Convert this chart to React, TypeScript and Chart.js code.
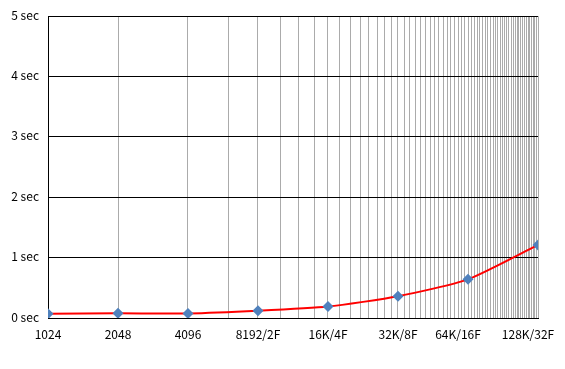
import React, { useEffect, useRef } from "react";
import { Chart, registerables } from "chart.js";

Chart.register(...registerables);

const xValues = [1024, 2048, 4096, 8192, 16384, 32768, 65536, 131072];
const xLabels = ["1024", "2048", "4096", "8192/2F", "16K/4F", "32K/8F", "64K/16F", "128K/32F"];
const labelShift = [0, 0, 0, 0, 0, 0, -10, -10];
const seconds = [0.07, 0.077, 0.075, 0.12, 0.19, 0.36, 0.64, 1.21];
const yTicks = [0, 1, 2, 3, 4, 5];
const gridStep = 2048;

const FONT = "Noto Sans CJK JP";

export default function App() {
  const ref = useRef<HTMLCanvasElement | null>(null);

  useEffect(() => {
    if (!ref.current) return;
    const xLabelPlugin = {
      id: "xLabelPlugin",
      afterDraw(chart: any) {
        const ctx = chart.ctx;
        const xs = chart.scales.x;
        ctx.save();
        ctx.font = `12px "${FONT}"`;
        ctx.fillStyle = "#000";
        ctx.textAlign = "center";
        ctx.textBaseline = "middle";
        xValues.forEach((v, i) => {
          ctx.fillText(xLabels[i], xs.getPixelForValue(v) + labelShift[i], chart.chartArea.bottom + 16);
        });
        ctx.restore();
      },
    };

    const chart = new Chart(ref.current, {
      type: "line",
      data: {
        datasets: [
          {
            data: xValues.map((x, i) => ({ x, y: seconds[i] })),
            borderColor: "#ff0000",
            borderWidth: 2,
            tension: 0.2,
            pointStyle: "rectRot",
            pointRadius: 5.5,
            pointBorderWidth: 0,
            pointBackgroundColor: "#4f81bd",
            pointBorderColor: "#4f81bd",
          },
        ],
      },
      options: {
        responsive: false,
        animation: false,
        layout: { padding: { top: 14, right: 27, left: 0, bottom: 0 } },
        plugins: { legend: { display: false }, tooltip: { enabled: false } },
        scales: {
          x: {
            type: "logarithmic",
            min: xValues[0],
            max: xValues[xValues.length - 1],
            afterBuildTicks(scale: any) {
              const ticks: any[] = [{ value: xValues[0] }];
              for (let v = gridStep; v <= xValues[xValues.length - 1]; v += gridStep) ticks.push({ value: v });
              scale.ticks = ticks;
            },
            afterFit(scale: any) {
              scale.height = 51;
            },
            ticks: { display: false },
            grid: { color: "#ababab", lineWidth: 1, drawTicks: false },
            border: { color: "#000", width: 1 },
          },
          y: {
            min: 0,
            max: 5,
            afterBuildTicks(scale: any) {
              scale.ticks = yTicks.map((v) => ({ value: v }));
            },
            afterFit(scale: any) {
              scale.width = 48;
            },
            ticks: {
              padding: 9,
              labelOffset: -1,
              color: "#000",
              font: { family: FONT, size: 12 },
              callback: (v: any) => `${v} sec`,
            },
            grid: { color: "#000", lineWidth: 1, drawTicks: false },
            border: { color: "#000", width: 1 },
          },
        },
      },
      plugins: [xLabelPlugin],
    });
    return () => chart.destroy();
  }, []);

  return (
    <div style={{ position: "fixed", left: 0, top: 0, width: 565, height: 369, background: "#fff" }}>
      <canvas ref={ref} width={565} height={369} style={{ display: "block" }} />
    </div>
  );
}
